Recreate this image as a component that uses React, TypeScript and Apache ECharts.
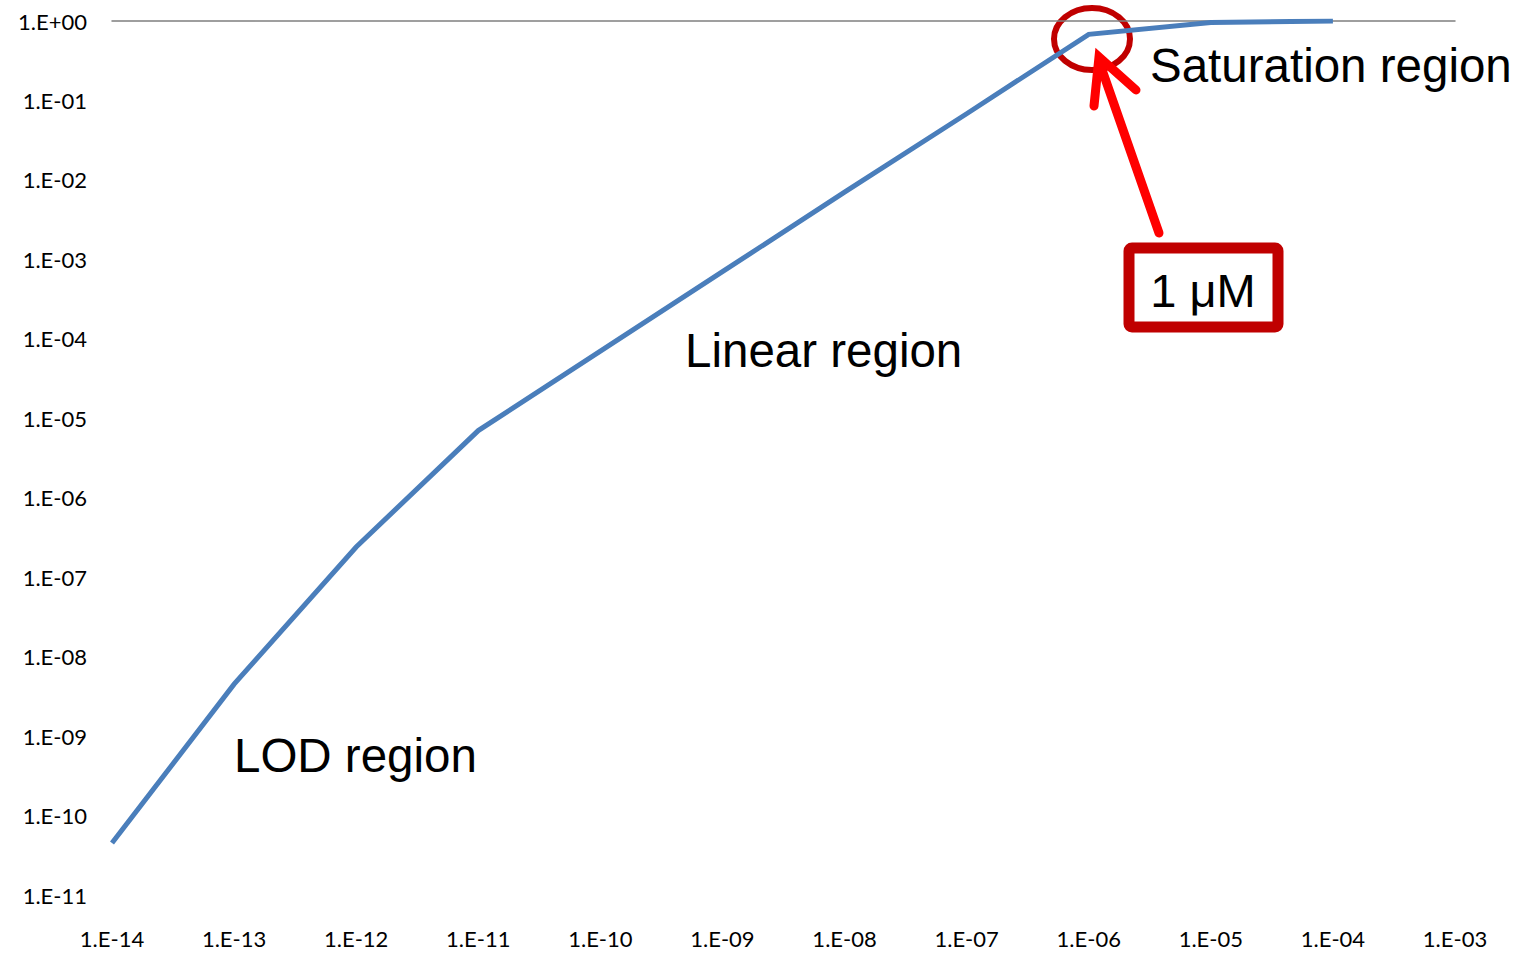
import React, { useEffect, useRef } from "react";
import * as echarts from "echarts";

const concentrations = [1e-14, 1e-13, 1e-12, 1e-11, 1e-10, 1e-9, 1e-8, 1e-7, 1e-6, 1e-5, 1e-4];
const signal = [4.5e-11, 4.5e-9, 2.4e-7, 7e-6, 7e-5, 7e-4, 7e-3, 6.8e-2, 0.68, 0.96, 1.0];
const xMin = 1e-14;
const xMax = 1e-3;
const yMin = 1e-11;
const yMax = 1;

const regionLabels = [
  { text: "Saturation region", x: 1150, y: 66 },
  { text: "Linear region", x: 685, y: 351 },
  { text: "LOD region", x: 234, y: 756 },
];

const fmt = (v: number) => {
  const e = Math.round(Math.log10(v));
  const s = e < 0 ? "-" : "+";
  const a = Math.abs(e);
  return "1.E" + s + (a < 10 ? "0" + a : String(a));
};

export default function App() {
  const ref = useRef<HTMLDivElement>(null);
  useEffect(() => {
    if (!ref.current) return;
    const chart = echarts.init(ref.current, null, { renderer: "svg" });
    const labelFont = "Lato, 'Open Sans', sans-serif";
    chart.setOption({
      animation: false,
      backgroundColor: "#ffffff",
      grid: { left: 112, right: 71, top: 21, bottom: 60, containLabel: false },
      xAxis: [
        {
          type: "log",
          logBase: 10,
          min: xMin,
          max: xMax,
          interval: 1,
          axisLine: { show: false },
          axisTick: { show: false },
          splitLine: { show: false },
          axisLabel: {
            formatter: fmt,
            fontSize: 22,
            color: "#000",
            fontFamily: labelFont,
            margin: 32,
            showMinLabel: true,
            showMaxLabel: true,
          },
        },
        {
          type: "log",
          logBase: 10,
          min: xMin,
          max: xMax,
          position: "top",
          axisLine: { show: true, lineStyle: { color: "#7f7f7f", width: 1.5 } },
          axisTick: { show: false },
          axisLabel: { show: false },
          splitLine: { show: false },
        },
      ],
      yAxis: {
        type: "log",
        logBase: 10,
        min: yMin,
        max: yMax,
        interval: 1,
        axisLine: { show: false },
        axisTick: { show: false },
        splitLine: { show: false },
        axisLabel: {
          formatter: fmt,
          fontSize: 22,
          color: "#000",
          fontFamily: labelFont,
          margin: 25,
          showMinLabel: true,
          showMaxLabel: true,
        },
      },
      series: [
        {
          type: "line",
          xAxisIndex: 0,
          data: concentrations.map((c, i) => [c, signal[i]]),
          showSymbol: false,
          symbol: "none",
          lineStyle: { color: "#4A7EBB", width: 5, cap: "butt", join: "miter" },
        },
      ],
      graphic: [
        ...regionLabels.map((r) => ({
          type: "text",
          left: r.x,
          top: r.y - 25,
          style: {
            text: r.text,
            fontSize: 47.5,
            fontFamily: "'Liberation Sans', Arial, sans-serif",
            fill: "#000",
          },
        })),
        {
          type: "ellipse",
          shape: { cx: 1092, cy: 39, rx: 38, ry: 31 },
          style: { fill: "none", stroke: "#C00000", lineWidth: 6 },
        },
        {
          type: "line",
          shape: { x1: 1159, y1: 233, x2: 1100, y2: 64 },
          style: { stroke: "#FF0000", lineWidth: 9, lineCap: "round" },
        },
        {
          type: "polyline",
          shape: { points: [[1094, 106], [1099, 57], [1136, 90]] },
          style: { stroke: "#FF0000", lineWidth: 9, lineCap: "round", lineJoin: "miter", fill: "none" },
        },
        {
          type: "rect",
          shape: { x: 1129, y: 248, width: 149, height: 79, r: 3 },
          style: { fill: "#fff", stroke: "#C00000", lineWidth: 11 },
        },
        {
          type: "text",
          x: 1203,
          y: 290,
          style: {
            text: "1 μM",
            fontSize: 47,
            fontFamily: "'Liberation Sans', Arial, sans-serif",
            fill: "#000",
            align: "center",
            verticalAlign: "middle",
          },
        },
      ],
    });
    return () => chart.dispose();
  }, []);
  return (
    <div
      ref={ref}
      style={{ position: "fixed", left: 0, top: 0, width: 1526, height: 955, background: "#fff" }}
    />
  );
}
